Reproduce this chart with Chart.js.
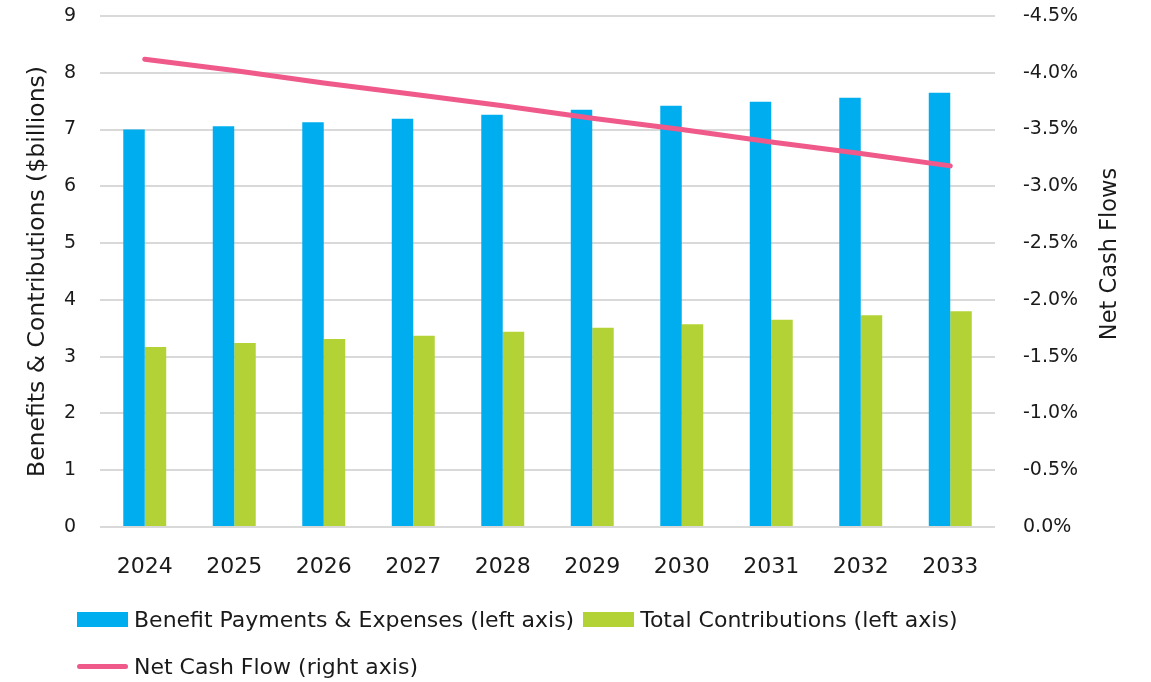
<!DOCTYPE html>
<html>
<head>
<meta charset="utf-8">
<script src="https://cdn.jsdelivr.net/npm/chart.js@4"></script>
<style>
    html, body { margin: 0; padding: 0; background: #fff; }
    #wrap { position: relative; width: 1151px; height: 682px; }
    .legend-row { position: absolute; left: 77px; display: flex; align-items: center; font-family: "DejaVu Sans", sans-serif; font-size: 22px; color: #1a1a1a; white-space: nowrap; }
    .swatch { width: 51px; height: 15px; margin-right: 6px; }
    .swatch.line { height: 5px; border-radius: 3px; }
</style>
</head>
<body>
<div id="wrap">
    <canvas id="cashChart" width="1151" height="682"></canvas>
    <div class="legend-row" style="top: 607px;">
        <div class="swatch" style="background:#00aeef"></div><span>Benefit Payments &amp; Expenses (left axis)</span>
        <div class="swatch" style="background:#b3d235; margin-left: 9px;"></div><span>Total Contributions (left axis)</span>
    </div>
    <div class="legend-row" style="top: 654px;">
        <div class="swatch line" style="background:#ef5a8a"></div><span>Net Cash Flow (right axis)</span>
    </div>
</div>
<script>
const years = ["2024", "2025", "2026", "2027", "2028", "2029", "2030", "2031", "2032", "2033"];
const benefitPayments = [7.00, 7.06, 7.13, 7.19, 7.26, 7.35, 7.42, 7.49, 7.56, 7.65];
const totalContributions = [3.17, 3.24, 3.31, 3.37, 3.44, 3.51, 3.57, 3.65, 3.73, 3.80];
const netCashFlow = [-4.12, -4.02, -3.91, -3.81, -3.71, -3.60, -3.50, -3.39, -3.29, -3.18];

const fontFamily = "'DejaVu Sans', sans-serif";
const textColor = "#1a1a1a";

// right axis title reads bottom-to-top, chart.js would turn it the other way
const rightTitle = {
    id: "rightTitle",
    afterDraw(chart) {
        const ctx = chart.ctx;
        ctx.save();
        ctx.translate(1110, 254);
        ctx.rotate(-Math.PI / 2);
        ctx.font = "22.5px " + fontFamily;
        ctx.fillStyle = textColor;
        ctx.textAlign = "center";
        ctx.textBaseline = "middle";
        ctx.fillText("Net Cash Flows", 0, 0);
        ctx.restore();
    }
};

function noPadY(scale, width) {
    scale.width = width;
    scale.paddingTop = 0;
    scale.paddingBottom = 0;
}

const cashCanvas = document.getElementById("cashChart");
const cashChart = new Chart(cashCanvas, {
    type: "bar",
    data: {
        labels: years,
        datasets: [
            {
                type: "line",
                label: "Net Cash Flow (right axis)",
                data: netCashFlow,
                yAxisID: "yRight",
                borderColor: "#ef5a8a",
                borderWidth: 5,
                borderCapStyle: "round",
                pointRadius: 0,
                tension: 0
            },
            {
                label: "Benefit Payments & Expenses (left axis)",
                data: benefitPayments,
                yAxisID: "yLeft",
                backgroundColor: "#00aeef",
                categoryPercentage: 0.48,
                barPercentage: 1.0
            },
            {
                label: "Total Contributions (left axis)",
                data: totalContributions,
                yAxisID: "yLeft",
                backgroundColor: "#b3d235",
                categoryPercentage: 0.48,
                barPercentage: 1.0
            }
        ]
    },
    options: {
        responsive: false,
        animation: false,
        layout: { padding: { top: 16, bottom: 0, left: 0, right: 0 } },
        plugins: {
            legend: { display: false },
            tooltip: { enabled: false }
        },
        scales: {
            x: {
                grid: { display: false },
                border: { display: false },
                ticks: { color: textColor, font: { family: fontFamily, size: 22 }, padding: 19, maxRotation: 0 },
                afterFit(scale) {
                    scale.height = 155;
                    scale.paddingLeft = 0;
                    scale.paddingRight = 0;
                }
            },
            yLeft: {
                position: "left",
                min: 0,
                max: 9,
                ticks: { stepSize: 1, color: textColor, font: { family: fontFamily, size: 19 }, padding: 24 },
                grid: { color: "#d9d9d9", lineWidth: 2, drawTicks: false },
                border: { display: false },
                title: {
                    display: true,
                    text: "Benefits & Contributions ($billions)",
                    color: textColor,
                    font: { family: fontFamily, size: 23.5 },
                    padding: { top: 24, bottom: 0 }
                },
                afterFit(scale) { noPadY(scale, 100); }
            },
            yRight: {
                position: "right",
                reverse: true,
                min: -4.5,
                max: 0,
                ticks: {
                    stepSize: 0.5,
                    color: textColor,
                    font: { family: fontFamily, size: 19 },
                    padding: 28,
                    callback: (value) => (value === 0 ? 0 : value).toFixed(1) + "%"
                },
                grid: { display: false, drawTicks: false },
                border: { display: false },
                afterFit(scale) { noPadY(scale, 156); }
            }
        }
    },
    plugins: [rightTitle]
});
</script>
</body>
</html>
